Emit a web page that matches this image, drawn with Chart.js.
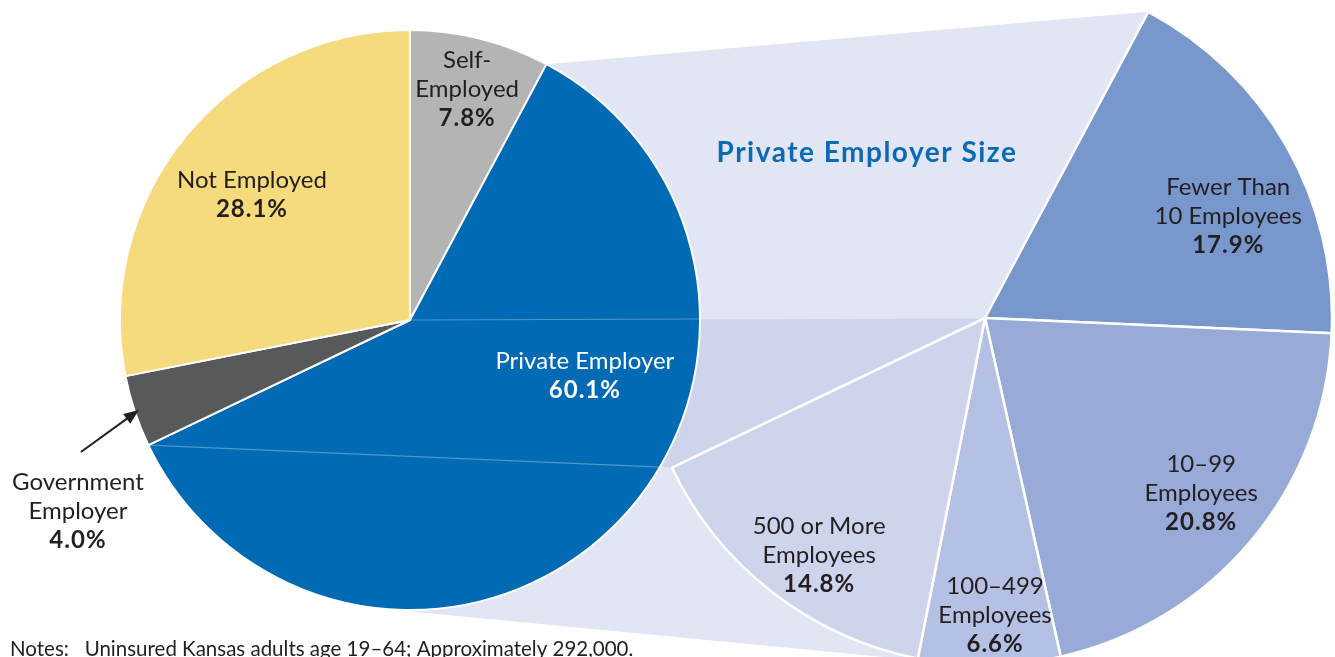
<!DOCTYPE html>
<html>
<head>
<meta charset="utf-8">
<script src="https://cdn.jsdelivr.net/npm/chart.js@4.4.0/dist/chart.umd.min.js"></script>
<style>
  html, body { margin: 0; padding: 0; width: 1335px; height: 657px; overflow: hidden; background: #fff; }
  .layer { position: absolute; left: 0; top: 0; }
</style>
</head>
<body>
<canvas id="sizeChart" class="layer" width="1335" height="700"></canvas>
<canvas id="typeChart" class="layer" width="1335" height="700"></canvas>
<script>
// uninsured adults by employer type
var employerTypes = ['Self-Employed', 'Private Employer', 'Government Employer', 'Not Employed'];
var employerTypeShares = [7.8, 60.1, 4.0, 28.1];
var employerTypeLines = [['Self-', 'Employed'], ['Private Employer'], ['Government', 'Employer'], ['Not Employed']];

// private employers broken down by size
var privateSizes = ['Fewer Than 10 Employees', '10–99 Employees', '100–499 Employees', '500 or More Employees'];
var privateSizeShares = [17.9, 20.8, 6.6, 14.8];
var privateSizeLines = [['Fewer Than', '10 Employees'], ['10–99', 'Employees'], ['100–499', 'Employees'], ['500 or More', 'Employees']];

var typeColors = ['#b4b4b5', '#006ab4', '#58595b', '#f5da7e'];
var sizeColors = ['#7897cd', '#97aad8', '#b5c1e4', '#cdd4eb'];

var FONT = 'Lato, "Open Sans", sans-serif';
var TEXT = '#231f20';

// label placement, in units of the pie radius from its centre
var typeLabelPos = [[0.197, -0.797], [0.603, 0.193], [-1.145, 0.659], [-0.545, -0.431]];
var sizeLabelPos = [[0.701, -0.293], [0.623, 0.504], [0.029, 0.858], [-0.478, 0.684]];

function drawBlock(ctx, x, y, lines, pct, color) {
	var lh = 29;
	var top = y - lines.length * lh / 2;
	ctx.fillStyle = color;
	ctx.textAlign = 'center';
	ctx.textBaseline = 'middle';
	ctx.letterSpacing = '0px';
	ctx.font = '24px ' + FONT;
	lines.forEach(function (s, i) { ctx.fillText(s, x, top + i * lh); });
	ctx.font = 'bold 24px ' + FONT;
	ctx.letterSpacing = '1px';
	ctx.fillText(pct, x, top + lines.length * lh);
	ctx.letterSpacing = '0px';
}

function edgePoint(arc, ang, r) {
	return { x: arc.x + Math.cos(ang) * r, y: arc.y + Math.sin(ang) * r };
}

var leftChart, rightChart;

var typeDecor = {
	id: 'typeDecor',
	afterDatasetsDraw: function (chart) {
		var ctx = chart.ctx;
		var arcs = chart.getDatasetMeta(0).data;
		var priv = arcs[1];
		ctx.save();
		// faint guide lines across the private slice
		if (rightChart) {
			var sub = rightChart.getDatasetMeta(0).data;
			var last = sub[privateSizeShares.length];
			var a = edgePoint(priv, priv.endAngle, priv.outerRadius);
			var b = edgePoint(last, last.endAngle, last.outerRadius);
			ctx.strokeStyle = 'rgba(255,255,255,0.3)';
			ctx.lineWidth = 1.2;
			ctx.beginPath();
			ctx.moveTo(priv.x, priv.y); ctx.lineTo(last.x, last.y);
			ctx.moveTo(a.x, a.y); ctx.lineTo(b.x, b.y);
			ctx.stroke();
		}
		// labels
		arcs.forEach(function (arc, i) {
			var p = typeLabelPos[i];
			var col = i === 1 ? '#ffffff' : TEXT;
			drawBlock(ctx, arc.x + p[0] * arc.outerRadius, arc.y + p[1] * arc.outerRadius,
				employerTypeLines[i], employerTypeShares[i].toFixed(1) + '%', col);
		});
		// arrow to the government slice
		var gov = arcs[2];
		var mid = (gov.startAngle + gov.endAngle) / 2;
		var tip = edgePoint(gov, mid, gov.outerRadius * 0.985);
		var tail = { x: tip.x - 58, y: tip.y + 42 };
		var ang = Math.atan2(tip.y - tail.y, tip.x - tail.x);
		ctx.strokeStyle = TEXT;
		ctx.fillStyle = TEXT;
		ctx.lineWidth = 2;
		ctx.beginPath();
		ctx.moveTo(tail.x, tail.y);
		ctx.lineTo(tip.x - Math.cos(ang) * 10, tip.y - Math.sin(ang) * 10);
		ctx.stroke();
		ctx.beginPath();
		ctx.moveTo(tip.x, tip.y);
		ctx.lineTo(tip.x - Math.cos(ang) * 15 + Math.sin(ang) * 6, tip.y - Math.sin(ang) * 15 - Math.cos(ang) * 6);
		ctx.lineTo(tip.x - Math.cos(ang) * 15 - Math.sin(ang) * 6, tip.y - Math.sin(ang) * 15 + Math.cos(ang) * 6);
		ctx.closePath();
		ctx.fill();
		// notes
		ctx.font = '20.5px ' + FONT;
		ctx.textAlign = 'left';
		ctx.textBaseline = 'alphabetic';
		ctx.fillText('Notes:   Uninsured Kansas adults age 19–64; Approximately 292,000.', 10, 656);
		ctx.restore();
	}
};

leftChart = new Chart(document.getElementById('typeChart'), {
	type: 'pie',
	data: {
		labels: employerTypes,
		datasets: [{
			data: employerTypeShares,
			backgroundColor: typeColors,
			borderColor: '#ffffff',
			borderWidth: 2
		}]
	},
	options: {
		responsive: false,
		animation: false,
		events: [],
		radius: 290,
		layout: { padding: { left: 0, right: 515, top: 0, bottom: 60 } },
		plugins: { legend: { display: false }, tooltip: { enabled: false } }
	},
	plugins: [typeDecor]
});

// the size pie shares the angles of the type pie; only the private part is shown
var sizeData = [employerTypeShares[0]].concat(privateSizeShares, employerTypeShares.slice(2));
var sizeLabels = [employerTypes[0]].concat(privateSizes, employerTypes.slice(2));
var sizeFill = ['rgba(0,0,0,0)'].concat(sizeColors, ['rgba(0,0,0,0)', 'rgba(0,0,0,0)']);
var sizeBorder = sizeData.map(function (v, i) { return (i >= 1 && i <= privateSizeShares.length) ? 2.5 : 0; });

var sizeDecor = {
	id: 'sizeDecor',
	beforeDatasetsDraw: function (chart) {
		var ctx = chart.ctx;
		var priv = leftChart.getDatasetMeta(0).data[1];
		var sub = chart.getDatasetMeta(0).data;
		var first = sub[1], last = sub[privateSizeShares.length];
		var r1 = priv.outerRadius, r2 = first.outerRadius;
		// lower common tangent of the two pies
		var dx = first.x - priv.x, dy = first.y - priv.y, d = Math.hypot(dx, dy);
		var phi = Math.acos((r1 - r2) / d);
		var base = Math.atan2(dy, dx);
		var na = Math.sin(base + phi) > 0 ? base + phi : base - phi;
		var t1 = edgePoint(priv, na, r1), t2 = edgePoint(first, na, r2);
		var p1 = edgePoint(priv, priv.startAngle, r1), p2 = edgePoint(first, first.startAngle, r2);
		var q1 = edgePoint(priv, priv.endAngle, r1), q2 = edgePoint(last, last.endAngle, r2);
		ctx.save();
		ctx.fillStyle = '#e1e5f4';
		ctx.beginPath();
		ctx.moveTo(priv.x, priv.y);
		ctx.lineTo(p1.x, p1.y); ctx.lineTo(p2.x, p2.y);
		ctx.lineTo(first.x, first.y);
		ctx.lineTo(t2.x, t2.y); ctx.lineTo(t1.x, t1.y);
		ctx.closePath();
		ctx.fill();
		ctx.fillStyle = '#cdd4eb';
		ctx.beginPath();
		ctx.moveTo(priv.x, priv.y);
		ctx.lineTo(first.x, first.y);
		ctx.lineTo(q2.x, q2.y);
		ctx.lineTo(q1.x, q1.y);
		ctx.closePath();
		ctx.fill();
		ctx.restore();
	},
	afterDatasetsDraw: function (chart) {
		var ctx = chart.ctx;
		var sub = chart.getDatasetMeta(0).data;
		ctx.save();
		for (var i = 0; i < privateSizeShares.length; i++) {
			var arc = sub[i + 1];
			var p = sizeLabelPos[i];
			drawBlock(ctx, arc.x + p[0] * arc.outerRadius, arc.y + p[1] * arc.outerRadius,
				privateSizeLines[i], privateSizeShares[i].toFixed(1) + '%', TEXT);
		}
		ctx.fillStyle = '#0a6ab4';
		ctx.font = 'bold 28px ' + FONT;
		ctx.letterSpacing = '1.5px';
		ctx.textAlign = 'center';
		ctx.textBaseline = 'middle';
		ctx.fillText('Private Employer Size', sub[1].x - 118, sub[1].y - 165);
		ctx.restore();
	}
};

rightChart = new Chart(document.getElementById('sizeChart'), {
	type: 'pie',
	data: {
		labels: sizeLabels,
		datasets: [{
			data: sizeData,
			backgroundColor: sizeFill,
			borderColor: '#ffffff',
			borderWidth: sizeBorder
		}]
	},
	options: {
		responsive: false,
		animation: false,
		events: [],
		radius: 347,
		layout: { padding: { left: 635, right: 0, top: 0, bottom: 64 } },
		plugins: { legend: { display: false }, tooltip: { enabled: false } }
	},
	plugins: [sizeDecor]
});

leftChart.draw();
</script>
</body>
</html>
